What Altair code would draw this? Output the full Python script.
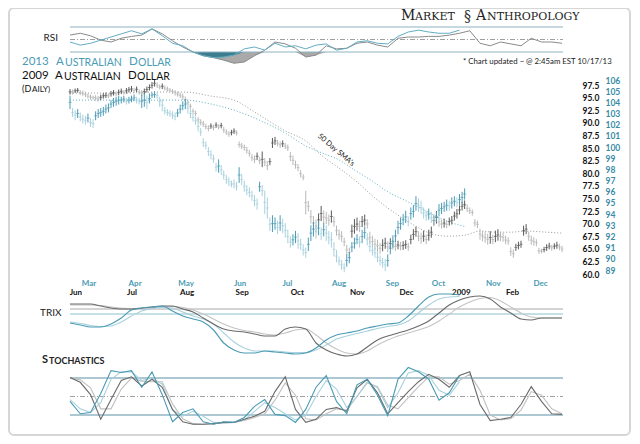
import altair as alt
import pandas as pd

# 2013 Australian dollar (teal, outer right scale) - daily highs / lows
aud13_hi = [104.6, 103.5, 103.3, 103.4, 103.1, 102.9, 102.8, 103.0, 102.6, 102.5,
            103.2, 103.4, 103.5, 103.6, 103.8, 103.9, 104.2, 104.4, 104.5, 104.6,
            104.5, 104.6, 104.4, 104.5, 104.6, 104.7, 104.5, 104.4, 104.7, 104.8,
            104.6, 104.8, 104.9, 105.0, 104.9, 104.5, 104.3, 103.6, 103.4, 103.3,
            103.2, 103.1, 103.4, 103.8, 104.1, 104.3, 104.0, 103.4, 103.0, 102.7,
            102.3, 101.7, 100.8, 100.5, 100.0, 99.7, 99.3, 98.6, 98.9, 98.4,
            97.9, 97.5, 97.3, 97.0, 97.1, 96.9, 98.2, 97.6, 97.0, 96.6,
            96.4, 96.1, 95.7, 95.4, 96.9, 96.6, 96.1, 95.5, 93.7, 93.9,
            93.7, 93.4, 93.9, 93.6, 93.2, 92.6, 92.0, 92.2, 92.5, 92.3,
            91.8, 91.3, 91.0, 91.9, 93.0, 93.3, 93.0, 93.4, 92.8, 93.2,
            93.0, 92.5, 92.4, 91.5, 90.8, 90.2, 89.9, 89.6, 90.4, 90.6,
            91.5, 91.9, 92.2, 92.0, 92.6, 92.9, 92.3, 91.6, 91.2, 91.0,
            90.6, 90.3, 90.1, 90.0, 90.4, 91.5, 92.1, 92.6, 93.4, 93.7,
            94.0, 94.3, 93.8, 94.6, 94.8, 95.6, 95.4, 95.2, 94.6, 94.3,
            94.5, 94.2, 94.0, 94.2, 94.9, 95.0, 95.1, 95.3, 95.2, 95.5,
            95.6, 95.5, 95.8, 96.0, 96.3]
aud13_lo = [103.4, 102.7, 102.4, 102.6, 102.3, 102.1, 102.0, 102.2, 101.8, 101.7,
            102.4, 102.6, 102.7, 102.8, 103.0, 103.1, 103.5, 103.6, 103.7, 103.8,
            103.9, 104.0, 103.8, 103.9, 104.0, 104.1, 103.9, 103.8, 103.5, 103.6,
            103.4, 103.9, 104.4, 104.4, 104.3, 103.6, 103.2, 102.9, 102.8, 102.7,
            102.5, 102.4, 102.7, 103.0, 103.3, 103.4, 103.0, 102.6, 102.3, 102.0,
            101.4, 101.0, 100.0, 99.8, 99.2, 98.9, 98.6, 97.8, 97.7, 97.5,
            97.1, 96.7, 96.5, 96.4, 96.3, 96.1, 96.8, 96.6, 96.0, 95.7,
            95.5, 95.2, 94.7, 94.4, 96.0, 95.6, 94.0, 93.6, 92.5, 92.4,
            92.6, 92.2, 92.5, 92.3, 91.9, 91.4, 91.0, 91.2, 91.4, 90.9,
            90.8, 90.3, 90.1, 90.7, 91.6, 92.0, 91.8, 92.1, 91.7, 92.0,
            91.6, 91.3, 91.0, 90.2, 89.7, 89.4, 89.0, 88.8, 89.3, 89.6,
            90.6, 90.9, 91.3, 91.0, 91.4, 91.8, 91.2, 90.6, 90.3, 90.1,
            89.7, 89.4, 89.2, 88.9, 89.3, 90.4, 91.0, 91.5, 92.2, 92.6,
            93.0, 93.2, 92.9, 93.5, 93.7, 94.3, 94.2, 94.0, 93.6, 93.4,
            93.5, 93.2, 93.0, 93.3, 93.8, 94.0, 94.2, 94.3, 94.3, 94.5,
            94.7, 94.6, 94.8, 95.0, 95.3]

# 2008-09 Australian dollar (gray, inner scale) - daily highs / lows
aud09_hi = [96.7, 96.6, 96.8, 96.9, 96.5, 96.4, 96.2, 95.8, 95.6, 95.4,
            95.5, 95.3, 95.6, 95.9, 96.0, 95.8, 96.3, 96.5, 96.2, 96.6,
            96.8, 96.5, 96.9, 97.1, 97.3, 96.9, 97.2, 96.6, 96.5, 96.8,
            97.2, 97.6, 98.1, 98.5, 98.0, 97.6, 97.8, 97.4, 97.2, 96.9,
            96.7, 96.5, 96.2, 96.0, 95.8, 95.2, 94.6, 93.8, 92.8, 92.4,
            91.1, 90.7, 90.4, 89.8, 89.5, 89.9, 89.6, 90.1, 89.7, 90.0,
            89.2, 88.7, 88.3, 88.6, 88.9, 88.5, 86.3, 86.0, 85.7, 85.2,
            84.6, 83.8, 83.5, 84.1, 83.2, 84.3, 83.0, 82.4, 83.0, 87.0,
            87.2, 86.6, 86.3, 86.5, 86.0, 85.7, 84.2, 83.5, 82.5, 81.8,
            80.6, 79.8, 76.5, 74.5, 72.7, 71.5, 70.8, 72.0, 73.5, 72.6,
            72.3, 71.8, 72.6, 71.4, 69.6, 68.8, 68.5, 67.2, 65.8, 65.2,
            69.8, 70.9, 71.2, 70.6, 71.5, 71.8, 70.9, 68.4, 67.6, 67.0,
            66.8, 66.2, 66.9, 67.2, 66.5, 67.1, 66.8, 66.3, 66.6, 66.4,
            66.5, 66.7, 66.2, 67.8, 68.9, 69.4, 68.5, 68.2, 68.6, 67.8,
            68.8, 69.4, 71.6, 72.5, 71.3, 70.8, 71.0, 70.6, 71.2, 71.5,
            72.4, 72.9, 73.6, 74.3, 74.6, 73.8, 73.2, 72.8, 70.9, 70.6,
            69.0, 68.6, 68.3, 68.0, 68.5, 67.8, 68.6, 68.9, 68.4, 68.2,
            67.6, 67.3, 65.3, 64.9, 66.0, 66.4, 66.6, 69.6, 69.9, 68.4,
            67.6, 67.3, 66.9, 65.2, 65.0, 65.4, 65.9, 66.2, 65.8, 66.1,
            66.4, 66.0, 65.6]
aud09_lo = [95.6, 95.6, 95.9, 96.0, 95.5, 95.3, 95.1, 94.8, 94.6, 94.6,
            94.4, 94.2, 94.5, 94.8, 94.9, 94.9, 95.2, 95.4, 95.3, 95.5,
            95.7, 95.6, 95.8, 96.0, 96.1, 95.9, 96.1, 95.6, 95.3, 95.6,
            96.0, 96.4, 96.8, 97.2, 96.9, 96.6, 96.7, 96.4, 96.2, 96.0,
            95.7, 95.4, 95.2, 94.9, 94.5, 94.0, 93.5, 92.8, 91.8, 91.3,
            90.1, 89.5, 89.2, 88.7, 88.3, 88.8, 88.5, 89.0, 88.7, 88.9,
            88.0, 87.6, 87.2, 87.5, 87.8, 87.5, 85.1, 84.8, 84.5, 83.9,
            83.3, 82.4, 82.0, 82.6, 81.8, 81.2, 81.4, 80.6, 81.6, 85.0,
            85.6, 85.3, 85.0, 85.2, 84.8, 84.4, 82.4, 81.6, 80.9, 80.4,
            79.2, 78.6, 71.8, 72.4, 70.0, 68.7, 68.3, 69.5, 70.5, 70.0,
            69.9, 69.6, 70.2, 69.4, 67.6, 66.8, 66.4, 65.5, 63.8, 63.3,
            67.2, 68.0, 68.6, 68.3, 69.3, 69.6, 69.0, 66.0, 65.3, 64.8,
            64.4, 64.0, 64.5, 65.0, 64.3, 65.0, 64.8, 64.6, 64.9, 64.7,
            64.8, 65.0, 64.6, 65.9, 66.8, 67.4, 66.5, 66.0, 66.4, 65.9,
            66.6, 67.2, 69.6, 70.0, 69.4, 69.0, 69.2, 69.1, 69.6, 69.8,
            70.6, 71.0, 71.8, 72.6, 72.9, 72.3, 71.9, 71.6, 69.4, 69.1,
            66.8, 66.5, 66.2, 65.8, 66.0, 65.9, 66.3, 66.6, 66.5, 66.4,
            65.9, 65.8, 63.6, 63.2, 64.6, 64.9, 65.2, 67.6, 67.9, 66.6,
            65.8, 65.6, 65.5, 64.0, 64.1, 64.3, 64.6, 64.9, 64.6, 64.9,
            65.0, 64.7, 64.3]

# 50 day SMAs (session index, value)
sma13_idx = [0, 20, 35, 45, 55, 64, 74, 84, 92, 98, 105, 111, 118, 124, 131, 137, 143, 148, 154]
sma13 = [104.2, 104.2, 104.2, 104.2, 103.85, 103.3, 102.4, 101.25, 100.1, 99.5,
         98.85, 97.95, 96.95, 96.0, 95.2, 94.5, 93.8, 93.3, 92.9]
sma09_idx = [0, 20, 35, 45, 55, 64, 74, 84, 92, 98, 105, 111, 118, 124, 131, 137,
             143, 148, 154, 160, 166, 172, 178, 186, 192]
sma09 = [95.9, 95.9, 96.1, 96.1, 95.3, 94.5, 91.5, 88.4, 86.4, 83.6, 81.0, 78.7, 75.5,
         73.1, 70.7, 68.9, 67.7, 67.5, 67.7, 68.5, 68.3, 68.3, 68.5, 68.3, 68.1]

# indicators, one reading every 4 sessions
rsi09 = [57, 60, 56, 49, 46, 52, 55, 57, 67, 59, 48, 38, 30, 24, 21, 17, 12, 14, 24, 33,
         46, 43, 36, 22, 25, 40, 35, 36, 44, 46, 41, 38, 52, 54, 54, 55, 55, 57, 60, 64,
         44, 40, 46, 43, 40, 52, 46, 46, 44]
rsi13 = [46, 41, 44, 49, 54, 59, 64, 59, 67, 56, 44, 40, 30, 24, 21, 22, 25, 35, 38, 33,
         44, 38, 40, 35, 41, 43, 33, 36, 46, 48, 44, 43, 55, 62, 65, 62, 60, 60, 65]
trix09 = [0.20, 0.20, 0.20, 0.16, 0.12, 0.10, 0.10, 0.12, 0.14, 0.16, 0.16, 0.10, 0.04,
          -0.08, -0.20, -0.30, -0.34, -0.36, -0.40, -0.44, -0.44, -0.30, -0.26, -0.30,
          -0.58, -0.72, -0.80, -0.84, -0.80, -0.66, -0.52, -0.44, -0.38, -0.32, -0.24,
          -0.14, 0.02, 0.18, 0.28, 0.34, 0.36, 0.30, 0.14, 0.02, -0.10, -0.12, -0.08,
          -0.08, -0.08]
trix09_sig = [0.18, 0.18, 0.18, 0.17, 0.14, 0.12, 0.10, 0.10, 0.12, 0.14, 0.15, 0.13, 0.08,
              0.00, -0.10, -0.20, -0.28, -0.33, -0.36, -0.40, -0.42, -0.38, -0.32, -0.30,
              -0.42, -0.58, -0.70, -0.78, -0.80, -0.74, -0.62, -0.52, -0.44, -0.38, -0.32,
              -0.25, -0.14, 0.00, 0.14, 0.24, 0.31, 0.33, 0.26, 0.14, 0.02, -0.06, -0.08,
              -0.08, -0.08]
trix13 = [-0.18, -0.22, -0.26, -0.26, -0.20, -0.08, 0.08, 0.12, 0.14, 0.16, 0.06, -0.04,
          -0.10, -0.16, -0.32, -0.58, -0.72, -0.78, -0.78, -0.74, -0.76, -0.78, -0.80,
          -0.78, -0.68, -0.52, -0.42, -0.38, -0.34, -0.28, -0.24, -0.20, -0.18, -0.04,
          0.16, 0.34, 0.40, 0.40, 0.38]
trix13_sig = [-0.16, -0.19, -0.23, -0.25, -0.24, -0.16, -0.04, 0.06, 0.11, 0.13, 0.12, 0.04,
              -0.04, -0.10, -0.20, -0.38, -0.56, -0.68, -0.74, -0.74, -0.74, -0.76, -0.77,
              -0.77, -0.72, -0.62, -0.50, -0.44, -0.39, -0.34, -0.29, -0.25, -0.22, -0.14,
              0.02, 0.18, 0.30, 0.34, 0.35]
stoch09_k = [81, 73, 53, 13, 45, 76, 82, 67, 78, 65, 29, 9, 5, 5, 6, 8, 8, 13, 18, 26,
             58, 82, 29, 8, 13, 29, 32, 26, 64, 78, 56, 22, 40, 58, 74, 86, 78, 65, 84, 90,
             37, 11, 13, 16, 37, 66, 42, 22, 21]
stoch09_d = [80, 77, 64, 30, 30, 62, 80, 75, 74, 74, 38, 14, 6, 5, 6, 7, 8, 11, 16, 22,
             44, 72, 52, 14, 12, 22, 30, 28, 50, 72, 66, 36, 30, 48, 66, 82, 82, 70, 76, 86,
             60, 20, 12, 14, 28, 58, 52, 30, 22]
stoch13_k = [42, 22, 24, 55, 92, 89, 92, 65, 90, 53, 9, 24, 30, 9, 5, 9, 8, 16, 34, 45,
             21, 19, 8, 29, 65, 84, 42, 22, 69, 78, 52, 19, 78, 97, 90, 78, 44, 56, 84]
stoch13_d = [45, 30, 24, 40, 78, 90, 90, 76, 80, 70, 28, 18, 26, 18, 8, 7, 8, 12, 26, 40,
             32, 22, 12, 20, 50, 76, 62, 32, 50, 74, 64, 32, 56, 88, 92, 84, 60, 52, 74]

# month labels (session index of each label)
months13 = ['Mar', 'Apr', 'May', 'Jun', 'Jul', 'Aug', 'Sep', 'Oct', 'Nov', 'Dec']
months13_idx = [7.4, 25.4, 45.3, 66.4, 84.8, 105, 125.8, 143.8, 165.2, 183.6]
months09 = ['Jun', 'Jul', 'Aug', 'Sep', 'Oct', 'Nov', 'Dec', '2009', 'Feb']
months09_idx = [2.3, 24.2, 45.7, 67.2, 88.7, 112.1, 131.3, 152.7, 172.7]

ticks09 = [60.0, 62.5, 65.0, 67.5, 70.0, 72.5, 75.0, 77.5, 80.0, 82.5, 85.0, 87.5,
           90.0, 92.5, 95.0, 97.5]
ticks13 = [89, 90, 91, 92, 93, 94, 95, 96, 97, 98, 99, 100, 101, 102, 103, 104, 105, 106]

TEAL = '#4a9bb4'
TEAL_LT = '#a8d1dd'
TEAL_DK = '#3b7d8f'
GRAY = '#5a5a5a'
GRAY_LT = '#b8b8b8'
FONT = 'Lato'
SERIF = 'DejaVu Serif'

xs = alt.Scale(domain=[0, 192], range=[62, 554], nice=False, zero=False)
X = alt.X('idx:Q', scale=xs, axis=None)


def ys(lo, hi, bottom, top):
    return alt.Scale(domain=[lo, hi], range=[bottom, top], nice=False, zero=False)


RSI_S = ys(30, 70, 44, 19)
P13_S = ys(89, 106, 262, 72)
P09_S = ys(60, 97.5, 266, 77)
TRIX_S = ys(-1.0, 0.4, 356, 286)
STO_S = ys(20, 80, 407, 370)

blank = pd.DataFrame({'k': [0]})


def label(text, x, y, size=9, color='#222', align='left', weight='normal', font=FONT,
          angle=0, baseline='middle'):
    return alt.Chart(blank).mark_text(
        text=text, x=x, y=y, fontSize=size, color=color, align=align,
        baseline=baseline, fontWeight=weight, font=font, angle=angle
    )


def hline(values, scale, color, width=1, dash=None):
    mark = dict(color=color, strokeWidth=width)
    if dash:
        mark['strokeDash'] = dash
    return alt.Chart(pd.DataFrame({'v': values})).mark_rule(**mark).encode(
        y=alt.Y('v:Q', scale=scale, axis=None),
        x=alt.value(62), x2=alt.value(555)
    )


def series(values, scale, color, width=1.1, interp='linear', step=4, idx=None, dash=None):
    df = pd.DataFrame({'idx': idx if idx is not None else [step * k for k in range(len(values))],
                       'v': values})
    mark = dict(color=color, strokeWidth=width, interpolate=interp)
    if dash:
        mark['strokeDash'] = dash
    return alt.Chart(df).mark_line(**mark).encode(x=X, y=alt.Y('v:Q', scale=scale, axis=None))


def oversold(values, scale, color):
    df = pd.DataFrame({'idx': [4 * k for k in range(len(values))], 'v': values})
    return alt.Chart(df).transform_calculate(
        low='min(datum.v, 30)', base='30'
    ).mark_area(color=color, opacity=1).encode(
        x=X, y=alt.Y('low:Q', scale=scale, axis=None), y2='base:Q'
    )


def bars(hi, lo, scale, up, down, axis=None):
    df = pd.DataFrame({'idx': list(range(len(hi))), 'hi': hi, 'lo': lo})
    base = alt.Chart(df).transform_calculate(
        mid='(datum.hi + datum.lo) / 2'
    ).transform_window(
        window=[alt.WindowFieldDef(op='lag', field='mid', **{'as': 'prev'})],
        sort=[alt.SortField('idx')]
    ).transform_calculate(
        col=f'datum.prev == null || datum.mid >= datum.prev ? "{up}" : "{down}"'
    )
    rule = base.mark_rule(strokeWidth=1).encode(
        x=X, y=alt.Y('lo:Q', scale=scale, axis=axis), y2='hi:Q',
        color=alt.Color('col:N', scale=None)
    )
    tick = base.mark_tick(orient='horizontal', size=3, thickness=1).encode(
        x=X, y=alt.Y('mid:Q', scale=scale, axis=None),
        color=alt.Color('col:N', scale=None)
    )
    return [rule, tick]


def price_axis(values, fmt, color, offset):
    return alt.Axis(orient='right', offset=offset, values=values, format=fmt, domain=False,
                    ticks=False, grid=False, labelPadding=0, labelFont=FONT,
                    labelFontWeight='bold', labelFontSize=8.5, labelColor=color,
                    labelAlign='left', title=None, labelOverlap=False, zindex=2)


frame = alt.Chart(blank).mark_rect(
    fill='white', stroke='#d6d6d6', strokeWidth=2, cornerRadius=5
).encode(x=alt.value(1), x2=alt.value(622), y=alt.value(0), y2=alt.value(427))

months13_df = pd.DataFrame({'idx': months13_idx, 'name': months13})
months09_df = pd.DataFrame({'idx': months09_idx, 'name': months09})
m13 = alt.Chart(months13_df).mark_text(
    y=276, fontSize=8, fontWeight='bold', color=TEAL, font=FONT
).encode(x=X, text='name:N')
m09 = alt.Chart(months09_df).mark_text(
    y=285, fontSize=8, fontWeight='bold', color='#111', font=FONT
).encode(x=X, text='name:N')

layers = [frame]

# RSI panel
layers += [
    oversold(rsi09, RSI_S, '#a9a9a9'),
    oversold(rsi13, RSI_S, TEAL_DK),
    hline([70, 30], RSI_S, '#8fb4c1', 1.2),
    hline([50], RSI_S, '#a0a0a0', 1, [5, 2, 1, 2]),
    series(rsi09, RSI_S, '#8a8a8a', 1),
    series(rsi13, RSI_S, '#62adc4', 1),
]

# price panel
layers += [
    series(sma09, P09_S, '#9a9a9a', 1, 'monotone', idx=sma09_idx, dash=[1, 2]),
    series(sma13, P13_S, '#5fb0c8', 1, 'monotone', idx=sma13_idx, dash=[1, 2]),
]
layers += bars(aud09_hi, aud09_lo, P09_S, GRAY, GRAY_LT,
               axis=price_axis(ticks09, '.1f', '#111', -50))
layers += bars(aud13_hi, aud13_lo, P13_S, TEAL, TEAL_LT,
               axis=price_axis(ticks13, 'd', '#3a8ba5', -27))
layers += [m13, m09]

# TRIX panel
layers += [
    hline([0.1], TRIX_S, '#d4d4d4', 2),
    hline([0], TRIX_S, '#8cc0cf', 1),
    series(trix09_sig, TRIX_S, '#c4c4c4', 1.1, 'monotone'),
    series(trix13_sig, TRIX_S, TEAL_LT, 1.1, 'monotone'),
    series(trix09, TRIX_S, '#6a6a6a', 1.1, 'monotone'),
    series(trix13, TRIX_S, TEAL, 1.1, 'monotone'),
]

# Stochastics panel
layers += [
    hline([80, 20], STO_S, '#adc8d2', 2),
    hline([50], STO_S, '#a0a0a0', 1, [5, 2, 1, 2]),
    series(stoch09_d, STO_S, '#c0c0c0', 1.1),
    series(stoch13_d, STO_S, TEAL_LT, 1.1),
    series(stoch09_k, STO_S, '#6a6a6a', 1.1),
    series(stoch13_k, STO_S, TEAL, 1.1),
]

# texts
layers += [
    label('RSI', 50, 30, 10, '#222', 'right'),
    label('TRIX', 32, 305, 10),
    label('S', 34, 352, 11, '#222', weight='bold'),
    label('TOCHASTICS', 41, 353, 9, '#222', weight='bold'),
    label('2013', 14, 54, 11.5, TEAL),
    label('A', 48, 54, 11.5, TEAL),
    label('USTRALIAN', 57, 55, 10.5, TEAL),
    label('D', 121, 54, 11.5, TEAL),
    label('OLLAR', 130, 55, 10.5, TEAL),
    label('2009', 14, 68, 11.5, '#111'),
    label('A', 47, 68, 11.5, '#111'),
    label('USTRALIAN', 56, 69, 10.5, '#111'),
    label('D', 120, 68, 11.5, '#111'),
    label('OLLAR', 129, 69, 10.5, '#111'),
    label('(D', 14, 81, 9, '#111'),
    label('AILY)', 24, 81.5, 8, '#111'),
    label('M', 393, 12, 14, '#222', font=SERIF, baseline='alphabetic'),
    label('ARKET', 407, 12, 11, '#222', font=SERIF, baseline='alphabetic'),
    label('§', 456, 13, 14, '#333', font=SERIF, baseline='alphabetic'),
    label('A', 468, 12, 14, '#222', font=SERIF, baseline='alphabetic'),
    label('NTHROPOLOGY', 479, 12, 11, '#222', font=SERIF, baseline='alphabetic'),
    label('* Chart updated ~ @ 2:45am EST 10/17/13', 455, 54, 7.8, '#222'),
    label("50 Day SMA's", 328, 142, 7.5, '#222', 'center', angle=40),
]

chart = alt.layer(*layers).resolve_scale(y='independent').properties(
    width=624, height=428, padding=0,
    autosize=alt.AutoSizeParams(type='none')
).configure_view(stroke=None)

chart.save('out.html', embed_options={'renderer': 'svg', 'actions': False})
